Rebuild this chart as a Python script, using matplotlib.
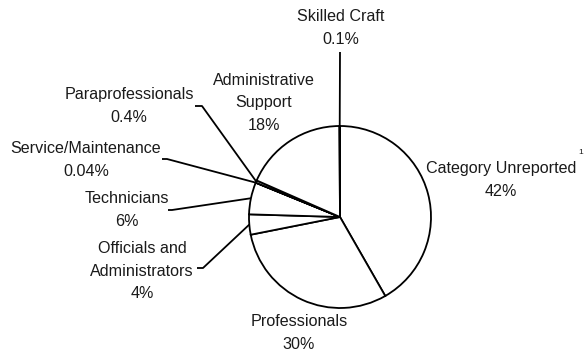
import numpy as np
import matplotlib
matplotlib.use("Agg")
import matplotlib.pyplot as plt

categories = ["Category Unreported", "Professionals", "Officials and\nAdministrators",
              "Technicians", "Service/Maintenance", "Paraprofessionals",
              "Administrative\nSupport", "Skilled Craft"]
shares = [41.9, 30.3, 3.6, 5.7, 0.04, 0.4, 18.4, 0.1]
pct_labels = ["42%", "30%", "4%", "6%", "0.04%", "0.4%", "18%", "0.1%"]

W, H = 585, 354
# label centres, in pixels from the top-left corner
label_pos = [(501, 180), (299, 333), (142, 271), (127, 210),
             (86, 160), (129, 106), (264, 103), (341, 28)]
# leader line: elbow point and tail point (pixels), None = no leader
leaders = [None, None, ((203, 268), (197, 268)), ((172, 210), (168, 210)),
           ((167, 159), (162, 159)), ((202, 106), (195, 106)), None,
           ((340, 52), (340, 52))]

cx, cy, r = 340, H - 217, 91

plt.rcParams['font.family'] = ['Liberation Sans', 'DejaVu Sans']

fig = plt.figure(figsize=(W / 100, H / 100), dpi=100)
ax = fig.add_axes([0, 0, 1, 1])

wedges, _ = ax.pie(shares, startangle=90, counterclock=False, center=(cx, cy), radius=r,
                   wedgeprops=dict(facecolor='white', edgecolor='black', linewidth=1.3))
ax.set_xlim(0, W)
ax.set_ylim(0, H)
ax.set_aspect('equal')
ax.axis('off')

for w, name, pct, pos, lead in zip(wedges, categories, pct_labels, label_pos, leaders):
    ax.text(pos[0], H - pos[1], name + "\n" + pct, ha='center', va='center',
            fontsize=11.6, color='#1a1a1a', linespacing=1.6)
    if lead is None:
        continue
    mid = np.deg2rad((w.theta1 + w.theta2) / 2)
    ex, ey = cx + r * np.cos(mid), cy + r * np.sin(mid)
    (bx, by), (tx, ty) = lead
    ax.plot([ex, bx, tx], [ey, H - by, H - ty], color='black', lw=1.3,
            solid_capstyle='butt', zorder=3)

# footnote marker next to "Category Unreported"
ax.text(578, H - 153, "1", fontsize=6, color='#1a1a1a', ha='left', va='center')

fig.savefig("out.png", dpi=100, facecolor='white')
